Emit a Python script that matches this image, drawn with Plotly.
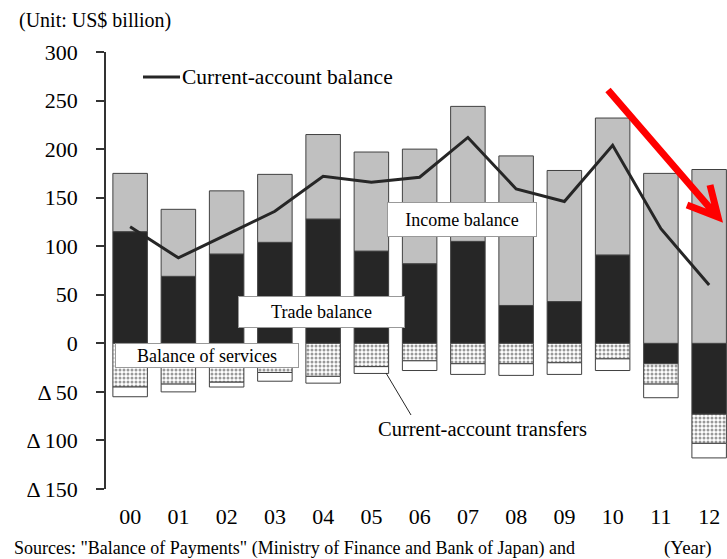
import plotly.graph_objects as go

# Japan's current-account components, US$ billion
years = ["00", "01", "02", "03", "04", "05", "06", "07", "08", "09", "10", "11", "12"]
trade_balance = [115, 69, 92, 104, 128, 95, 82, 105, 39, 43, 91, -21, -73]
income_balance = [60, 69, 65, 70, 87, 102, 118, 139, 154, 135, 141, 175, 179]
services_balance = [-45, -42, -40, -30, -34, -24, -18, -21, -21, -20, -16, -21, -30]
current_transfers = [-10, -8, -5, -9, -7, -7, -10, -11, -12, -12, -12, -14, -15]
current_account = [120, 88, 112, 136, 172, 166, 171, 212, 159, 146, 204, 118, 60]

y_ticks = [300, 250, 200, 150, 100, 50, 0, -50, -100, -150]
y_tick_text = ["300", "250", "200", "150", "100", "50", "0", "\u0394 50", "\u0394 100", "\u0394 150"]

W, H = 727, 559
ML, MR, MT, MB = 106, 0, 52, 70
PW, PH = W - ML - MR, H - MT - MB
FONT = "Liberation Serif, Times New Roman, serif"
OUTLINE = "#404040"


def px(x):
    return (x - ML) / PW


def py(y):
    return (H - MB - y) / PH


idx = list(range(len(years)))

fig = go.Figure()
fig.add_bar(x=idx, y=trade_balance, name="Trade balance",
            marker=dict(color="#262626", line=dict(color=OUTLINE, width=1)))
fig.add_bar(x=idx, y=income_balance, name="Income balance",
            marker=dict(color="#c0c0c0", line=dict(color=OUTLINE, width=1)))
fig.add_bar(x=idx, y=services_balance, name="Balance of services",
            marker=dict(color="white", line=dict(color=OUTLINE, width=1),
                        pattern=dict(shape=".", fgcolor="#333333", bgcolor="white",
                                     size=4, solidity=0.45)))
fig.add_bar(x=idx, y=current_transfers, name="Current-account transfers",
            marker=dict(color="white", line=dict(color=OUTLINE, width=1)))
fig.add_scatter(x=idx, y=current_account, mode="lines", name="Current-account balance",
                line=dict(color="#262626", width=3))

fig.update_layout(
    width=W, height=H,
    margin=dict(l=ML, r=MR, t=MT, b=MB),
    paper_bgcolor="white", plot_bgcolor="white",
    barmode="relative", bargap=0.285,
    showlegend=False,
    font=dict(family=FONT, color="black", size=22),
    xaxis=dict(range=[-0.5, 12.37], tickvals=idx, ticktext=years,
               showline=False, showgrid=False, zeroline=False,
               ticks="", ticklabelstandoff=12,
               tickfont=dict(family=FONT, size=22)),
    # zero line with small boundary ticks
    xaxis2=dict(overlaying="x", anchor="free", position=1 / 3,
                range=[-0.5, 12.37], showline=True, linecolor="black", linewidth=2,
                ticks="outside", ticklen=6, tickwidth=1.5, tickcolor="black",
                tickvals=[i + 0.5 for i in idx[:-1]], showticklabels=False,
                showgrid=False, zeroline=False),
    yaxis=dict(range=[-150, 300], tickvals=y_ticks, ticktext=y_tick_text,
               showline=True, linecolor="#333333", linewidth=1.5,
               ticks="outside", ticklen=8, tickwidth=1.5, tickcolor="#333333",
               ticklabelstandoff=14,
               showgrid=False, zeroline=False,
               tickfont=dict(family=FONT, size=22)),
)

annotations = [
    dict(text="(Unit: US$ billion)", x=px(17), y=py(20), xanchor="left", yanchor="middle",
         font=dict(size=20)),
    dict(text="Current-account balance", x=px(180), y=py(77), xanchor="left", yanchor="middle",
         font=dict(size=21.5)),
    dict(text="Income balance", x=px(462), y=py(219.5), xanchor="center", yanchor="middle",
         width=148, height=33, bgcolor="white", bordercolor="#999999", borderwidth=1,
         borderpad=0, font=dict(size=18)),
    dict(text="Trade balance", x=px(321.5), y=py(312), xanchor="center", yanchor="middle",
         width=165, height=30, bgcolor="white", bordercolor="#999999", borderwidth=1,
         borderpad=0, font=dict(size=18)),
    dict(text="Balance of services", x=px(207), y=py(355.5), xanchor="center", yanchor="middle",
         width=182, height=23, bgcolor="white", bordercolor="#999999", borderwidth=1,
         borderpad=0, font=dict(size=18)),
    dict(text="Current-account transfers", x=px(482), y=py(429), xanchor="center", yanchor="middle",
         font=dict(size=20.5)),
    dict(text="(Year)", x=px(688), y=py(548), xanchor="center", yanchor="middle",
         font=dict(size=19)),
    dict(text='Sources: "Balance of Payments" (Ministry of Finance and Bank of Japan) and',
         x=px(12), y=py(548), xanchor="left", yanchor="middle", font=dict(size=18)),
]
for a in annotations:
    a.update(xref="paper", yref="paper", showarrow=False)
fig.update_layout(annotations=annotations)


def seg_path(points_list):
    parts = []
    for pts in points_list:
        cmd = "M"
        for (x, y) in pts:
            parts.append(f"{cmd} {px(x):.5f},{py(y):.5f}")
            cmd = "L"
    return " ".join(parts)


shapes = [
    # legend key for the current-account line
    dict(type="line", x0=px(143), x1=px(180), y0=py(77), y1=py(77),
         line=dict(color="#262626", width=3)),
    # leader line to the transfers label
    dict(type="line", x0=px(386), y0=py(373), x1=px(411), y1=py(415),
         line=dict(color="#262626", width=1)),
    # red downward arrow
    dict(type="path",
         path=seg_path([[(608, 90), (716, 215)], [(687, 205), (718, 217), (710, 185)]]),
         line=dict(color="#ff0000", width=7)),
]
for s in shapes:
    s.update(xref="paper", yref="paper", layer="above")
fig.update_layout(shapes=shapes)

fig.write_html("out.html")
